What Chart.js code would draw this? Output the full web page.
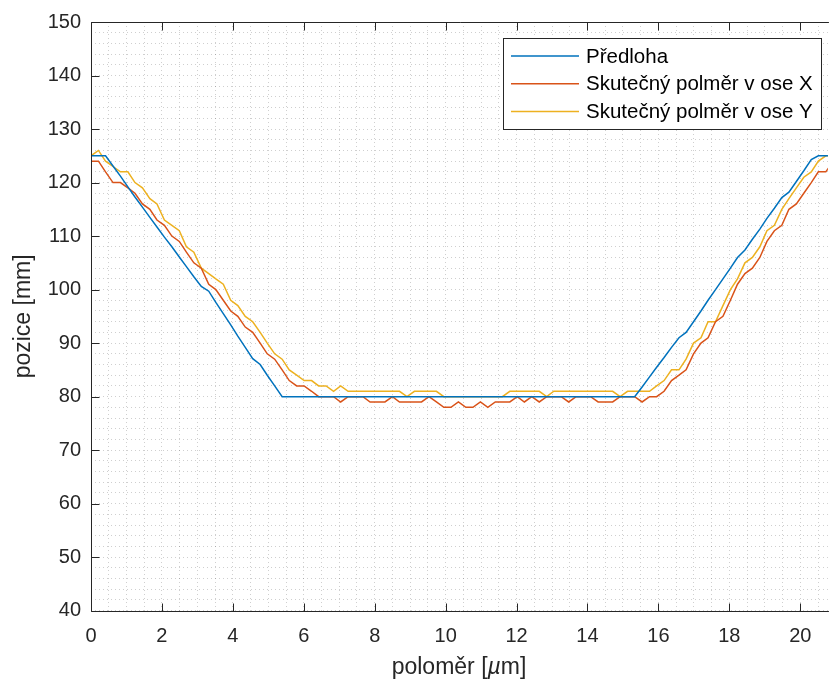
<!DOCTYPE html>
<html>
<head>
<meta charset="utf-8">
<script src="https://cdn.jsdelivr.net/npm/chart.js@4.4.1/dist/chart.umd.min.js"></script>
<style>
html, body { margin: 0; padding: 0; background: #fff; overflow: hidden; }
</style>
</head>
<body>
<canvas id="graf" width="832" height="686"></canvas>
<script>
const polomer = [0, 0.21, 0.41, 0.62, 0.83, 1.04, 1.24, 1.45, 1.66, 1.86,
    2.07, 2.28, 2.49, 2.69, 2.90, 3.11, 3.32, 3.52, 3.73, 3.94,
    4.14, 4.35, 4.56, 4.77, 4.97, 5.18, 5.39, 5.59, 5.80, 6.01,
    6.22, 6.42, 6.63, 6.84, 7.04, 7.25, 7.46, 7.67, 7.87, 8.08,
    8.29, 8.50, 8.70, 8.91, 9.12, 9.32, 9.53, 9.74, 9.95, 10.15,
    10.36, 10.57, 10.77, 10.98, 11.19, 11.40, 11.60, 11.81, 12.02, 12.22,
    12.43, 12.64, 12.85, 13.05, 13.26, 13.47, 13.68, 13.88, 14.09, 14.30,
    14.50, 14.71, 14.92, 15.13, 15.33, 15.54, 15.75, 15.95, 16.16, 16.37,
    16.58, 16.78, 16.99, 17.20, 17.40, 17.61, 17.82, 18.03, 18.23, 18.44,
    18.65, 18.86, 19.06, 19.27, 19.48, 19.68, 19.89, 20.10, 20.31, 20.51,
    20.72, 20.93]

const predloha = [125, 125, 125, 123.1, 121.2, 119.2, 117.3, 115.4, 113.5, 111.7,
    109.8, 108, 106.1, 104.3, 102.4, 100.6, 99.7, 97.6, 95.5, 93.4,
    91.3, 89.2, 87.1, 86, 84, 82, 80, 80, 80, 80,
    80, 80, 80, 80, 80, 80, 80, 80, 80, 80,
    80, 80, 80, 80, 80, 80, 80, 80, 80, 80,
    80, 80, 80, 80, 80, 80, 80, 80, 80, 80,
    80, 80, 80, 80, 80, 80, 80, 80, 80, 80,
    80, 80, 80, 80, 80, 81.8, 83.7, 85.5, 87.3, 89.2,
    91, 92, 94, 96, 98, 100, 102, 104, 106, 107.4,
    109.4, 111.3, 113.3, 115.2, 117.2, 118.2, 120.2, 122.2, 124.3, 125,
    125, 125]

const osaX = [124, 124, 122, 120, 120, 119, 118, 116, 115, 113,
    112, 110, 109, 107, 105, 104, 101, 100, 98, 96,
    95, 93, 92, 90, 88, 87, 85, 83, 82, 82,
    81, 80, 80, 80, 79, 80, 80, 80, 79, 79,
    79, 80, 79, 79, 79, 79, 80, 79, 78, 78,
    79, 78, 78, 79, 78, 79, 79, 79, 80, 79,
    80, 79, 80, 80, 80, 79, 80, 80, 80, 79,
    79, 79, 80, 80, 80, 79, 80, 80, 81, 83,
    84, 85, 88, 90, 91, 94, 95, 98, 101, 103,
    104, 106, 109, 111, 112, 115, 116, 118, 120, 122,
    122, 124]

const osaY = [125, 126, 124, 123, 122, 122, 120, 119, 117, 116,
    113, 112, 111, 108, 107, 104, 103, 102, 101, 98,
    97, 95, 94, 92, 90, 88, 87, 85, 84, 83,
    83, 82, 82, 81, 82, 81, 81, 81, 81, 81,
    81, 81, 81, 80, 81, 81, 81, 81, 80, 80,
    80, 80, 80, 80, 80, 80, 80, 81, 81, 81,
    81, 81, 80, 81, 81, 81, 81, 81, 81, 81,
    81, 81, 80, 81, 81, 81, 81, 82, 83, 85,
    85, 87, 90, 91, 94, 94, 97, 100, 102, 105,
    106, 108, 111, 112, 115, 117, 119, 121, 122, 124,
    125, 125]

const nazvy = ['Předloha', 'Skutečný polměr v ose X', 'Skutečný polměr v ose Y']
const barvy = ['#0072BD', '#D95319', '#EDB120']
const xHlavni = [0, 2, 4, 6, 8, 10, 12, 14, 16, 18, 20]
const yHlavni = [40, 50, 60, 70, 80, 90, 100, 110, 120, 130, 140, 150]

const pismo = '"Liberation Sans", Arial, sans-serif'
const tmava = '#262626'

const body = (hodnoty) => polomer.map((x, i) => ({ x: x, y: hodnoty[i] }))

const osy = {
    id: 'osy',
    afterDatasetsDraw(chart) {
        const { ctx, chartArea: a, scales: { x, y } } = chart
        const L = Math.round(a.left) + 0.5
        const T = Math.round(a.top) + 0.5
        const B = Math.round(a.bottom) + 0.5
        ctx.save()
        ctx.strokeStyle = tmava
        ctx.lineWidth = 1
        ctx.beginPath()
        ctx.moveTo(L, T); ctx.lineTo(a.right + 1, T)
        ctx.moveTo(L, T); ctx.lineTo(L, B); ctx.lineTo(a.right + 1, B)
        xHlavni.forEach(v => {
            const p = Math.round(x.getPixelForValue(v)) + 0.5
            ctx.moveTo(p, B); ctx.lineTo(p, B - 8)
            ctx.moveTo(p, T); ctx.lineTo(p, T + 8)
        })
        yHlavni.forEach(v => {
            const p = Math.round(y.getPixelForValue(v)) + 0.5
            ctx.moveTo(L, p); ctx.lineTo(L + 8, p)
        })
        ctx.stroke()

        // legenda
        const lx = 503.5, ly = 38.5, lw = 318, lh = 91
        ctx.fillStyle = '#fff'
        ctx.fillRect(lx, ly, lw, lh)
        ctx.strokeRect(lx, ly, lw, lh)
        ctx.font = '20.5px ' + pismo
        ctx.textBaseline = 'middle'
        ctx.textAlign = 'left'
        chart.data.datasets.forEach((d, i) => {
            const ry = 56 + i * 27.8
            ctx.strokeStyle = d.borderColor
            ctx.lineWidth = 1.5
            ctx.beginPath()
            ctx.moveTo(511, ry); ctx.lineTo(579, ry)
            ctx.stroke()
            ctx.fillStyle = '#000'
            ctx.fillText(d.label, 586, ry + 1)
        })

        // popisky os
        ctx.fillStyle = tmava
        ctx.font = '23px ' + pismo
        const casti = [['poloměr [', 'normal'], ['µ', 'italic'], ['m]', 'normal']]
        let sirka = 0
        casti.forEach(c => { ctx.font = c[1] + ' 23px ' + pismo; sirka += ctx.measureText(c[0]).width })
        let px = 459 - sirka / 2
        casti.forEach(c => {
            ctx.font = c[1] + ' 23px ' + pismo
            ctx.fillText(c[0], px, 668)
            px += ctx.measureText(c[0]).width
        })
        ctx.font = '23px ' + pismo
        ctx.translate(24, (a.top + a.bottom) / 2)
        ctx.rotate(-Math.PI / 2)
        ctx.textAlign = 'center'
        ctx.fillText('pozice [mm]', 0, 0)
        ctx.restore()
    }
}

new Chart(document.getElementById('graf'), {
    type: 'line',
    data: {
        datasets: [predloha, osaX, osaY].map((h, i) => ({
            label: nazvy[i],
            data: body(h),
            borderColor: barvy[i],
            borderWidth: 1.5,
            pointRadius: 0,
            tension: 0,
            fill: false
        }))
    },
    options: {
        responsive: false,
        animation: false,
        devicePixelRatio: 1,
        layout: { padding: { top: 19.5, left: 0, right: 0, bottom: 0 } },
        plugins: { legend: { display: false }, tooltip: { enabled: false } },
        scales: {
            x: {
                type: 'linear',
                min: 0,
                max: 20.78,
                afterFit: s => { s.height = 75.3 },
                ticks: {
                    stepSize: 0.5,
                    autoSkip: false,
                    includeBounds: false,
                    maxRotation: 0,
                    padding: 14,
                    color: tmava,
                    font: { family: pismo, size: 20 },
                    callback: v => xHlavni.includes(v) ? String(v) : ''
                },
                grid: { color: 'rgba(38,38,38,0.22)', lineWidth: 1, drawTicks: false },
                border: { display: false, dash: [1, 3] }
            },
            y: {
                min: 40,
                max: 150,
                afterFit: s => { s.width = 91 },
                ticks: {
                    stepSize: 2,
                    autoSkip: false,
                    padding: 10,
                    color: tmava,
                    font: { family: pismo, size: 20 },
                    callback: v => yHlavni.includes(v) ? String(v) : ''
                },
                grid: { color: 'rgba(38,38,38,0.22)', lineWidth: 1, drawTicks: false },
                border: { display: false, dash: [1, 3] }
            }
        }
    },
    plugins: [osy]
})
</script>
</body>
</html>
